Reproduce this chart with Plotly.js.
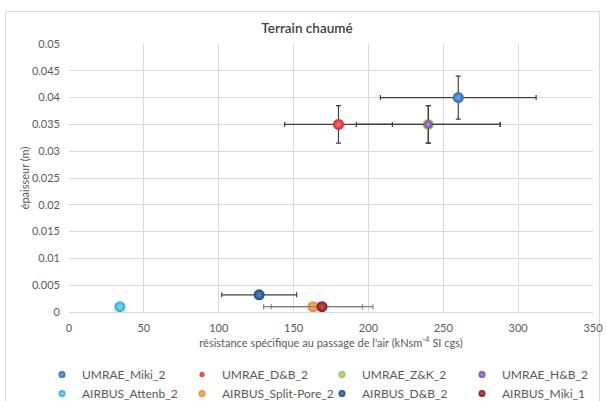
<!DOCTYPE html>
<html>
<head>
<meta charset="utf-8">
<script src="https://cdn.plot.ly/plotly-3.0.1.min.js"></script>
<style>html,body{margin:0;padding:0;background:#fff;}#chart{width:606px;height:401px;}</style>
</head>
<body>
<div id="chart"></div>
<script>
// ---- data ----
const seriesNames = ["UMRAE_Miki_2","UMRAE_D&B_2","UMRAE_Z&K_2","UMRAE_H&B_2","AIRBUS_Attenb_2","AIRBUS_Split-Pore_2","AIRBUS_D&B_2","AIRBUS_Miki_1"];
const resistance = [260, 180, 240, 240, 34, 163, 127, 169];
const thickness = [0.04, 0.035, 0.035, 0.035, 0.001, 0.001, 0.0032, 0.001];
const resistanceErr = [52, 36, 48, 48, 0, 33, 25, 34];
const thicknessErr = [0.004, 0.0035, 0.0035, 0.0035, 0, 0, 0, 0];
const xTickVals = [0, 50, 100, 150, 200, 250, 300, 350];
const yTickVals = [0, 0.005, 0.01, 0.015, 0.02, 0.025, 0.03, 0.035, 0.04, 0.045, 0.05];

// ---- styles ----
const colors = ["#2a6bb4","#d7262b","#8cc04a","#7a4aa6","#2ea9cc","#ee8427","#1b4c84","#861a1d"];
const lightColors = ["#78a9e2","#f27a7a","#c6e59a","#b795d8","#8fdcef","#f8c08a","#5b89c2","#c2585a"];
const markerSizes = [11, 11, 11, 8, 11, 11, 11, 11];
const legendSizes = [7, 5, 7, 7, 7, 7, 7, 7];
const errColors = ["#404040","#404040","#404040","#404040","#404040","#808080","#404040","#808080"];
const font = "Lato, 'Open Sans', sans-serif";

const traces = [];
seriesNames.forEach((n, i) => {
  traces.push({
    type: "scatter", mode: "markers", name: n, showlegend: false,
    x: [resistance[i]], y: [thickness[i]],
    marker: {size: markerSizes[i], color: colors[i], line: {width: 0},
             gradient: {type: "radial", color: lightColors[i]}},
    error_x: {type: "data", array: [resistanceErr[i]], visible: resistanceErr[i] > 0,
              color: errColors[i], thickness: 1.2, width: 2.5},
    error_y: {type: "data", array: [thicknessErr[i]], visible: thicknessErr[i] > 0,
              color: errColors[i], thickness: 1.2, width: 2.5}
  });
});
seriesNames.forEach((n, i) => {
  traces.push({
    type: "scatter", mode: "markers", name: n, showlegend: true,
    x: [null], y: [null],
    marker: {size: legendSizes[i], color: colors[i], line: {width: 0},
             gradient: {type: "radial", color: lightColors[i]}}
  });
});

const L = 69, R = 593, T = 44, B = 312, W = 606, H = 401;
const pw = R - L, ph = B - T;
const px2x = p => (p - L) / pw;
const px2y = p => (B - p) / ph;

const layout = {
  width: W, height: H,
  margin: {l: L, r: W - R, t: T, b: H - B, pad: 0, autoexpand: false},
  paper_bgcolor: "#ffffff", plot_bgcolor: "#ffffff",
  font: {family: font, size: 11, color: "#595959"},
  title: {text: "Terrain chaumé", x: 307 / W, xref: "container", xanchor: "center",
          y: 1 - 28 / H, yref: "container", yanchor: "middle",
          font: {family: font, size: 13.5, color: "#404040", weight: 600}},
  xaxis: {range: [0, 350], tickvals: xTickVals, ticktext: xTickVals.map(String),
          showgrid: true, gridcolor: "#d9d9d9", gridwidth: 1,
          zeroline: false, showline: true, linecolor: "#d9d9d9", linewidth: 1,
          ticks: "", ticklabelstandoff: 6, mirror: false,
          tickfont: {family: font, size: 11, color: "#595959"},
          title: {text: "résistance spécifique au passage de l'air (kNsm<sup>-4</sup> SI cgs)",
                  font: {family: font, size: 11, color: "#595959"}, standoff: 3}},
  yaxis: {range: [0, 0.05], tickvals: yTickVals, ticktext: yTickVals.map(v => String(v)),
          showgrid: true, gridcolor: "#d9d9d9", gridwidth: 1,
          zeroline: false, showline: false,
          ticks: "", ticklabelstandoff: 8,
          tickfont: {family: font, size: 11, color: "#595959"},
          title: {text: "épaisseur (m)", font: {family: font, size: 11, color: "#595959"}, standoff: 0}},
  showlegend: true,
  legend: {orientation: "h", x: px2x(42), xanchor: "left", y: px2y(360), yanchor: "top",
           entrywidth: 95, entrywidthmode: "pixels", traceorder: "normal",
           font: {family: font, size: 12, color: "#595959"}, bgcolor: "rgba(0,0,0,0)",
           itemsizing: "trace"},
  shapes: [{type: "rect", xref: "paper", yref: "paper",
            x0: px2x(5.5), x1: px2x(599.5), y0: px2y(420), y1: px2y(11.5),
            line: {color: "#d9d9d9", width: 1}, fillcolor: "rgba(0,0,0,0)", layer: "below"}]
};

Plotly.newPlot("chart", traces, layout, {staticPlot: true, displayModeBar: false});
</script>
</body>
</html>
